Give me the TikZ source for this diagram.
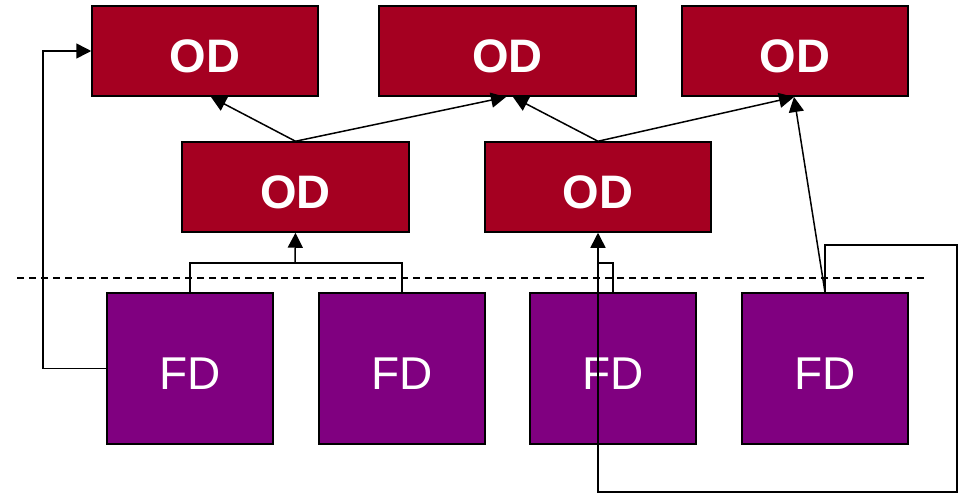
\documentclass[tikz,border=0pt]{standalone}
\usepackage{fontspec}
\setmainfont{Liberation Sans}
\usetikzlibrary{arrows.meta}
\definecolor{odred}{HTML}{A50021}
\definecolor{fdpurple}{HTML}{800080}
\tikzset{
  odbox/.style={draw=black, line width=1.5pt, fill=odred, text=white,
    minimum width=226pt, minimum height=90pt, inner sep=0pt,
    text height=42pt, text depth=0pt,
    font=\fontsize{47}{50}\selectfont\bfseries},
  fdbox/.style={draw=black, line width=1.5pt, fill=fdpurple, text=white,
    minimum width=166pt, minimum height=151pt, inner sep=0pt,
    text height=42pt, text depth=0pt,
    font=\fontsize{46}{50}\selectfont},
  conn/.style={draw=black, line width=1.5pt},
  arr/.style={conn, -{Triangle[length=15pt,width=15pt]}},
}
\begin{document}
\begin{tikzpicture}[x=1pt,y=-1pt]
\useasboundingbox (0,0) rectangle (961,496);

% output nodes, top row
\node[odbox] (od1) at (205,51) {OD};
\node[odbox, minimum width=257pt] (od2) at (507.5,51) {OD};
\node[odbox] (od3) at (795,51) {OD};
% output nodes, middle row
\node[odbox, minimum width=227pt] (od4) at (295.5,187) {OD};
\node[odbox] (od5) at (598,187) {OD};

% separator
\coordinate (dl) at (17,278);
\coordinate (dr) at (925,278);
\draw[line width=1.2pt, dash pattern=on 7pt off 5pt] (dl) -- (dr);

% input nodes
\node[fdbox] (fd1) at (190,368.5) {FD};
\node[fdbox] (fd2) at (402,368.5) {FD};
\node[fdbox] (fd3) at (613,368.5) {FD};
\node[fdbox] (fd4) at (825,368.5) {FD};

% routing points
\coordinate (l1) at (43,51);
\coordinate (j1) at (295,263);
\coordinate (j3) at (598,263);
\coordinate (r1) at (957,245);
\coordinate (r2) at (957,492);
\coordinate (r3) at (598,492);
\coordinate (t11) at (211,97);
\coordinate (t21) at (506,97);
\coordinate (t22) at (513,97);
\coordinate (t31) at (794,97);

% middle row to top row
\draw[arr] (od4.north) -- (t11);
\draw[arr] (od4.north) -- (t21);
\draw[arr] (od5.north) -- (t22);
\draw[arr] (od5.north) -- (t31);

% input links
\draw[arr] (fd1.west) -| (l1) -- (od1.west);
\draw[conn] (fd1.north) |- (j1);
\draw[conn] (fd2.north) |- (j1);
\draw[arr] (j1) -- (od4.south);
\draw[conn] (fd3.north) |- (j3);
\draw[arr] (fd4.north) |- (r1) -- (r2) -- (r3) -- (od5.south);
\draw[arr] (fd4.north) -- (t31);
\end{tikzpicture}
\end{document}
